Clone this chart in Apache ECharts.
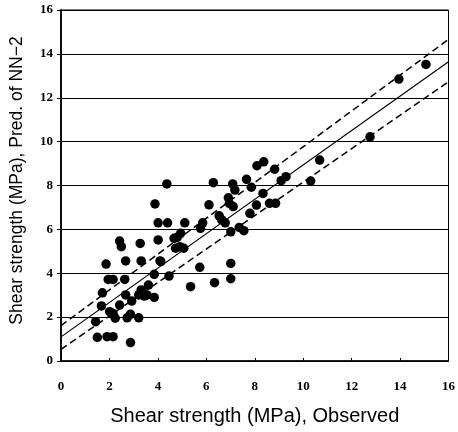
<!DOCTYPE html>
<html>
<head>
<meta charset="utf-8">
<script src="https://cdn.jsdelivr.net/npm/echarts@6/dist/echarts.min.js"></script>
<style>html,body{margin:0;padding:0;background:#fff}#c{width:458px;height:432px}</style>
</head>
<body>
<div id="c"></div>
<script>
const obsX = [1.43,1.50,1.90,2.15,1.71,1.67,1.86,1.95,2.15,2.01,2.15,2.24,2.42,2.49,2.67,2.63,2.42,2.67,2.73,2.87,2.87,2.92,3.27,3.31,3.21,3.31,3.21,3.55,3.61,3.85,3.88,4.01,4.01,3.85,4.09,4.37,4.40,4.46,5.11,4.67,4.80,4.94,4.73,4.91,5.07,5.35,5.73,5.76,5.85,6.11,6.29,6.34,6.53,6.64,6.78,6.91,6.95,7.01,7.01,7.01,7.09,7.18,7.11,7.36,7.55,7.66,7.80,8.07,7.86,8.09,8.37,8.82,9.09,9.29,8.34,8.61,8.86,10.31,10.68,12.76,13.95,15.07,3.44,4.12];
const predY = [1.79,1.08,1.11,1.11,3.11,2.51,4.42,3.72,3.72,2.25,2.17,1.95,5.47,5.21,4.56,3.72,2.55,3.01,1.97,2.13,0.84,2.73,5.36,4.56,3.01,3.24,1.97,3.01,3.46,2.90,7.16,5.52,6.30,3.95,4.56,8.07,6.30,3.87,6.30,5.59,5.64,5.82,5.14,5.21,5.14,3.39,4.27,6.05,6.30,7.12,8.13,3.57,6.62,6.43,6.30,7.44,7.19,5.89,4.45,3.75,8.07,7.79,7.04,6.09,5.94,8.28,6.73,7.11,7.92,8.90,9.08,8.74,8.22,8.40,7.64,7.19,7.19,8.20,9.16,10.22,12.85,13.52,2.96,4.53];
const lineX = [0, 16];
const fitY = [1.10, 13.64];
const upperY = [1.61, 14.66];
const lowerY = [0.53, 12.73];
const tickLabelsX = ['0','2','4','6','8','10','12','14','16'];

const chart = echarts.init(document.getElementById('c'), null, {renderer:'canvas'});
const lbl = {fontFamily:'Liberation Serif', fontWeight:'bold', fontSize:13, color:'#000'};
chart.setOption({
  animation:false,
  grid:{left:59, right:7, top:10, bottom:71, show:true, borderColor:'#000', borderWidth:1},
  xAxis:{type:'value', min:0, max:16, interval:2,
    name:'Shear strength (MPa), Observed', nameLocation:'middle', nameGap:45,
    nameTextStyle:{fontFamily:'Liberation Sans', fontSize:20, color:'#000'},
    axisLine:{show:true, lineStyle:{color:'#000', width:1.5}},
    axisTick:{show:true, inside:true, length:3, lineStyle:{color:'#000'}},
    axisLabel:Object.assign({margin:19, formatter:(v)=>tickLabelsX[v/2]}, lbl),
    splitLine:{show:false}},
  yAxis:{type:'value', min:0, max:16, interval:2,
    name:'Shear strength (MPa), Pred. of NN\u22122', nameLocation:'middle', nameGap:35,
    nameTextStyle:{fontFamily:'Liberation Sans', fontSize:17.5, color:'#000', padding:[0,0,0,10]},
    axisLine:{show:true, lineStyle:{color:'#000', width:1.8}},
    axisTick:{show:true, inside:false, length:4, lineStyle:{color:'#000'}},
    axisLabel:Object.assign({margin:8}, lbl),
    splitLine:{show:true, lineStyle:{color:'#000', width:1}}},
  series:[
    {type:'line', data:lineX.map((x,i)=>[x,fitY[i]]), symbol:'none', lineStyle:{color:'#000', width:1.2}, z:3},
    {type:'line', data:lineX.map((x,i)=>[x,upperY[i]]), symbol:'none', lineStyle:{color:'#000', width:1.5, type:[7,4]}, z:3},
    {type:'line', data:lineX.map((x,i)=>[x,lowerY[i]]), symbol:'none', lineStyle:{color:'#000', width:1.5, type:[7,4]}, z:3},
    {type:'scatter', data:obsX.map((x,i)=>[x,predY[i]]), symbol:'circle', symbolSize:9.5, itemStyle:{color:'#000', opacity:1}, z:4}
  ]
});
</script>
</body>
</html>
